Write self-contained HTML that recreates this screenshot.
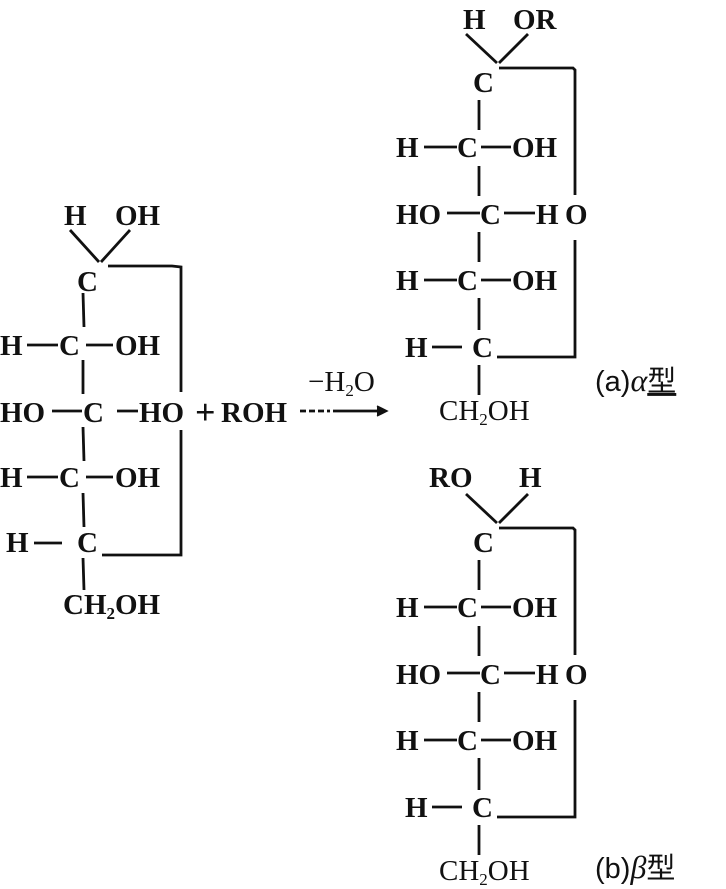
<!DOCTYPE html>
<html><head><meta charset="utf-8"><style>
html,body{margin:0;padding:0;background:#fff;}
svg{display:block;}
text{font-family:"Liberation Serif","Noto Serif CJK SC",serif;font-weight:bold;font-size:29px;fill:#111;}
.n{font-weight:normal;font-family:"Liberation Sans","Noto Sans CJK SC",sans-serif;font-size:29px;}
.s{font-size:17px;}
line,polyline{stroke:#111;stroke-width:2.8;fill:none;}
</style></head><body>
<svg width="726" height="889" viewBox="0 0 726 889">
<!-- Left structure -->
<text x="64" y="225">H</text><text x="115" y="225">OH</text>
<line x1="70" y1="230" x2="99" y2="262"/><line x1="130" y1="230" x2="101" y2="262"/>
<text x="77" y="291">C</text>
<polyline points="108,266 172,266 181,267 181,392"/>
<line x1="83" y1="293" x2="84" y2="327"/>
<text x="0" y="355">H</text><line x1="27" y1="345" x2="58" y2="345"/><text x="59" y="355">C</text><line x1="86" y1="345" x2="113" y2="345"/><text x="115" y="355">OH</text>
<line x1="83" y1="360" x2="83" y2="394"/>
<text x="0" y="422">HO</text><line x1="52" y1="411" x2="82" y2="411"/><text x="83" y="422">C</text><line x1="117" y1="411" x2="138" y2="411"/><text x="139" y="422">HO</text>
<text x="195" y="424" style="font-size:36px">+</text><text x="221" y="422">ROH</text>
<line x1="300" y1="411" x2="330" y2="411" stroke-dasharray="6,3"/><line x1="333" y1="411" x2="385" y2="411"/>
<polyline points="377,406 387,411 377,416" style="fill:#111;stroke-width:1.5"/>
<text x="308" y="391" style="font-weight:normal">−H<tspan class="s" dy="5">2</tspan><tspan dy="-5">O</tspan></text>
<line x1="83" y1="427" x2="84" y2="461"/>
<polyline points="181,430 181,555 102,555"/>
<text x="0" y="487">H</text><line x1="27" y1="477" x2="58" y2="477"/><text x="59" y="487">C</text><line x1="86" y1="477" x2="113" y2="477"/><text x="115" y="487">OH</text>
<line x1="83" y1="493" x2="84" y2="527"/>
<text x="6" y="552">H</text><line x1="34" y1="543" x2="62" y2="543"/><text x="77" y="552">C</text>
<line x1="83" y1="558" x2="84" y2="590"/>
<text x="63" y="614">CH<tspan class="s" dy="5">2</tspan><tspan dy="-5">OH</tspan></text>

<!-- Right top (alpha) -->
<text x="463" y="29">H</text><text x="513" y="29">OR</text>
<g id="ring">
<line x1="466" y1="34" x2="497" y2="63"/><line x1="528" y1="34" x2="499" y2="63"/>
</g>
<g id="body">
<text x="473" y="92">C</text>
<polyline points="499,68 560,68 573,68 575,70 575,195"/>
<line x1="479" y1="100" x2="479" y2="130"/>
<text x="396" y="157">H</text><line x1="424" y1="147" x2="457" y2="147"/><text x="457" y="157">C</text><line x1="481" y1="147" x2="511" y2="147"/><text x="512" y="157">OH</text>
<line x1="479" y1="166" x2="479" y2="196"/>
<text x="396" y="224">HO</text><line x1="447" y1="213" x2="480" y2="213"/><text x="480" y="224">C</text><line x1="504" y1="213" x2="535" y2="213"/><text x="536" y="224">H</text><text x="565" y="224">O</text>
<line x1="479" y1="232" x2="479" y2="262"/>
<polyline points="575,240 575,357 497,357"/>
<text x="396" y="290">H</text><line x1="424" y1="280" x2="457" y2="280"/><text x="457" y="290">C</text><line x1="481" y1="280" x2="511" y2="280"/><text x="512" y="290">OH</text>
<line x1="479" y1="298" x2="479" y2="330"/>
<text x="405" y="357">H</text><line x1="432" y1="347" x2="462" y2="347"/><text x="472" y="357">C</text>
<line x1="479" y1="365" x2="479" y2="395"/>
<text x="439" y="420" style="font-weight:normal">CH<tspan class="s" dy="5">2</tspan><tspan dy="-5">OH</tspan></text>
</g>
<text class="n" x="595" y="391">(a)<tspan font-style="italic" font-family="Liberation Serif" font-size="32">α</tspan><tspan text-decoration="underline">型</tspan></text>

<!-- Right bottom (beta) -->
<text x="429" y="487">RO</text><text x="519" y="487">H</text>
<use href="#ring" transform="translate(0,460)"/>
<use href="#body" transform="translate(0,460)"/>
<text class="n" x="595" y="878">(b)<tspan font-style="italic" font-family="Liberation Serif" font-size="32">β</tspan>型</text>
</svg>
</body></html>
